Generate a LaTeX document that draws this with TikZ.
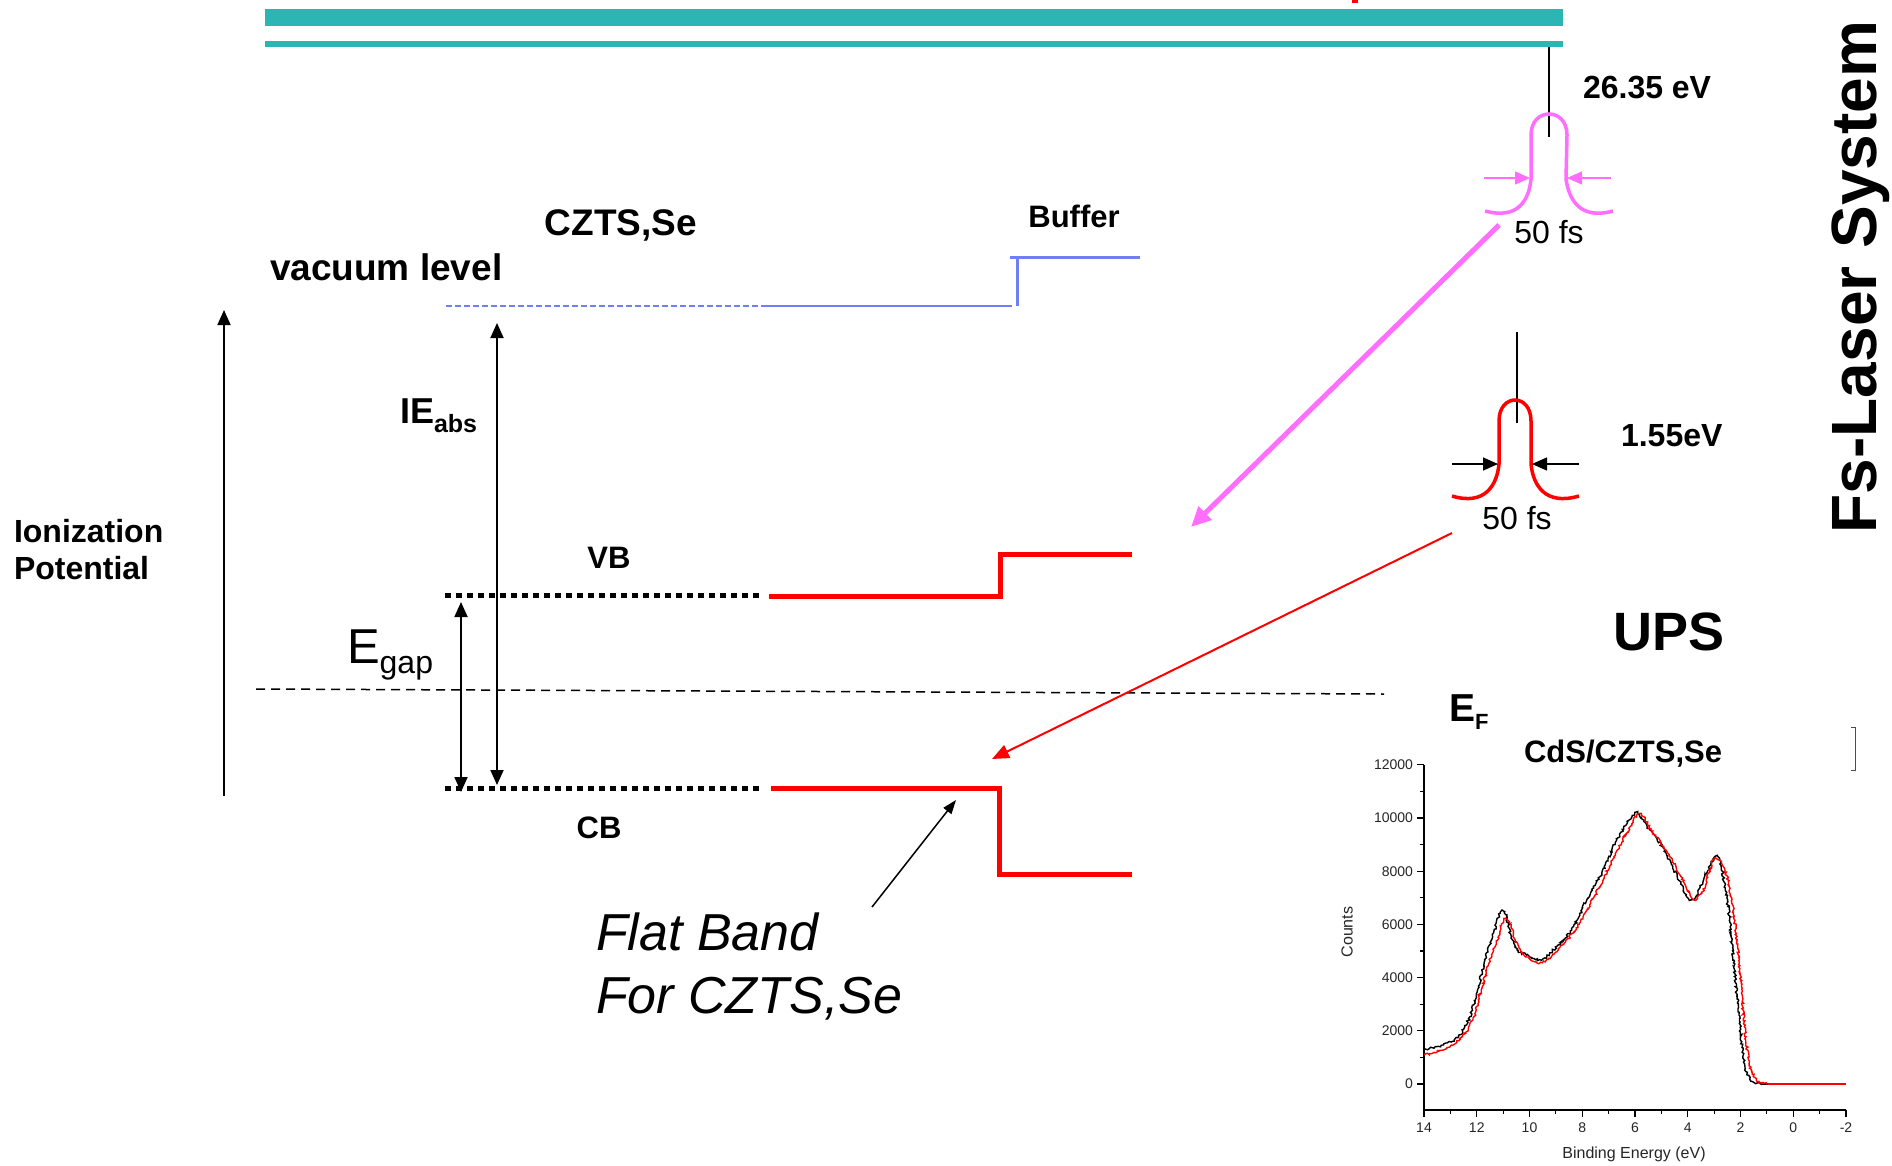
\documentclass[tikz,border=0pt]{standalone}
\usepackage{fontspec}
\setmainfont{Liberation Sans}
\usetikzlibrary{arrows.meta,decorations.pathmorphing}
\definecolor{teal1}{RGB}{43,181,179}
\definecolor{vacblue}{RGB}{112,128,240}
\definecolor{pulsepink}{RGB}{255,110,255}
\newcommand{\fsz}[1]{\fontsize{#1}{#1}\selectfont}
\begin{document}
\begin{tikzpicture}[x=1pt,y=-1pt,
  lbl/.style={inner sep=0pt, outer sep=0pt},
  tipA/.style={-{Triangle[length=15pt,width=13pt]}},
  tipB/.style={{Triangle[length=15pt,width=13pt]}-{Triangle[length=15pt,width=13pt]}},
  vline/.style={line width=1.8pt},
  dotline/.style={line width=5pt, dash pattern=on 6pt off 5pt},
  band/.style={red, line width=5pt, miter limit=10},
  pulse/.style={line width=3.5pt},
  noisy/.style={line width=1.4pt, decorate, decoration={random steps, segment length=1.6pt, amplitude=1.2pt}},
  ticklbl/.style={lbl, font=\fsz{14}, text=black!85}]
\useasboundingbox (0,0) rectangle (1892,1165);
\fill[white] (0,0) rectangle (1892,1165);

% top bars
\fill[teal1] (265,9) rectangle (1563,26);
\fill[teal1] (265,41) rectangle (1563,47);
\fill[red] (1352,0) rectangle (1358,3);

% Fermi level
\coordinate (ef1) at (256,689);
\coordinate (ef2) at (1384,694);
\draw[line width=1.5pt, dash pattern=on 9pt off 6pt] (ef1) -- (ef2);

% vacuum level
\coordinate (va) at (446,306); \coordinate (vb) at (765,306); \coordinate (vc) at (1012,306);
\draw[vacblue, line width=2.5pt, dash pattern=on 6pt off 3pt] (va) -- (vb);
\draw[vacblue, line width=2.5pt] (vb) -- (vc);
\coordinate (vd) at (1017,258); \coordinate (ve) at (1017,306);
\draw[vacblue, line width=3pt] (vd) -- (ve);
\coordinate (vf) at (1010,257); \coordinate (vg) at (1140,257);
\draw[vacblue, line width=3pt] (vf) -- (vg);

% dotted VB / CB
\coordinate (vb1) at (445,595); \coordinate (vb2) at (760,595);
\coordinate (cb1) at (445,788); \coordinate (cb2) at (760,788);
\draw[dotline] (vb1) -- (vb2);
\draw[dotline] (cb1) -- (cb2);

% red bands
\draw[band] (769,596) -- (1000,596) -- (1000,554) -- (1132,554);
\draw[band] (771,788) -- (999,788) -- (999,874) -- (1132,874);

% vertical arrows
\coordinate (ip1) at (224,796); \coordinate (ip2) at (224,310);
\draw[vline, tipA] (ip1) -- (ip2);
\coordinate (ie1) at (497,323); \coordinate (ie2) at (497,785);
\draw[vline, tipB] (ie1) -- (ie2);
\coordinate (eg1) at (461,602); \coordinate (eg2) at (461,792);
\draw[vline, tipB] (eg1) -- (eg2);

% laser beams
\coordinate (pb1) at (1499,225); \coordinate (pb2) at (1191,527);
\draw[pulsepink, line width=5pt, -{Triangle[length=20pt,width=18pt]}] (pb1) -- (pb2);
\coordinate (rb1) at (1452,533); \coordinate (rb2) at (992,759);
\draw[red, line width=2pt, -{Triangle[length=17pt,width=14pt]}] (rb1) -- (rb2);
\coordinate (fb1) at (872,907); \coordinate (fb2) at (956,800);
\draw[line width=1.5pt, -{Triangle[length=14pt,width=10pt]}] (fb1) -- (fb2);

% pulses
\draw[line width=2.5pt] (1549,47) -- (1549,137);
\draw[pulsepink, pulse] (1485,211) .. controls (1518,220) and (1529,200) .. (1531,179) -- (1531,135)
  .. controls (1531,107) and (1567,107) .. (1567,135) -- (1566,179)
  .. controls (1569,200) and (1580,220) .. (1613,211);
\draw[pulsepink, line width=1.3pt, tipA] (1484,178) -- (1530,178);
\draw[pulsepink, line width=1.3pt, tipA] (1611,178) -- (1567,178);

\draw[line width=2.5pt] (1517,332) -- (1517,423);
\draw[red, pulse] (1452,496) .. controls (1485,506) and (1497,485) .. (1499,464) -- (1499,421)
  .. controls (1499,393) and (1531,393) .. (1531,421) -- (1531,464)
  .. controls (1533,485) and (1545,506) .. (1579,496);
\draw[line width=1.5pt, tipA] (1452,464) -- (1498,464);
\draw[line width=1.5pt, tipA] (1579,464) -- (1532,464);

% bracket
\draw[line width=1pt, black!70] (1851,727) -- (1855,727) -- (1855,770) -- (1851,770);

% plot axes
\draw[line width=1.3pt] (1424,765) -- (1424,1110) -- (1846,1110);
\foreach \k in {0,2,...,12} \draw[line width=1.2pt] (1424,{1084-26.6*\k}) -- ++(-7,0);
\foreach \k in {1,3,...,11} \draw[line width=1.2pt] (1424,{1084-26.6*\k}) -- ++(-4,0);
\foreach \k/\t in {0/0,2/2000,4/4000,6/6000,8/8000,10/10000,12/12000}
  \node[ticklbl, anchor=east] at (1413,{1084-26.6*\k}) {\t};
\foreach \b in {-2,0,...,14} \draw[line width=1.2pt] ({1793.25-26.375*\b},1110) -- ++(0,7);
\foreach \b in {-1,1,...,13} \draw[line width=1.2pt] ({1793.25-26.375*\b},1110) -- ++(0,4);
\foreach \b in {-2,0,2,4,6,8,10,12,14}
  \node[ticklbl] at ({1793.25-26.375*\b},1128) {\b};
\node[lbl, rotate=90, font=\fsz{16}, text=black!85] (cnt) at (1347,932) {Counts};
\node[lbl, font=\fsz{16}, text=black!85] (bel) at (1634,1154) {Binding Energy (eV)};

% spectra
\pgfmathsetseed{7}
\begin{scope}[shift={(1793.25,1084)}, x={(-26.375pt,0pt)}, y={(0pt,26.6pt)}]
\draw[noisy]
 plot[smooth, tension=0.5] coordinates {(14,1.28) (13.26,1.47) (12.69,1.78) (12.26,2.53) (11.97,3.54) (11.69,4.66)
 (11.4,5.54) (11.11,6.42) (10.9,6.36) (10.69,5.54) (10.47,5.04) (10.11,4.85) (9.54,4.66) (8.97,5.17)
 (8.4,5.79) (7.83,6.92) (7.26,7.93) (6.69,9.18) (6.11,10.06) (5.9,10.18) (5.54,9.68) (4.97,8.93)
 (4.4,7.8) (3.97,6.98) (3.69,7.05) (3.4,7.67) (2.97,8.55) (2.76,8.3) (2.47,6.67) (2.26,4.66)
 (2.04,2.41) (1.83,0.65) (1.54,0.09) (1.11,0)};
\draw[line width=1.4pt] (1.11,0) -- (-2,0);
\draw[red, noisy]
 plot[smooth, tension=0.5] coordinates {(14,1.09) (13.26,1.28) (12.54,1.78) (12.11,2.53) (11.83,3.54) (11.54,4.54)
 (11.26,5.29) (10.97,6.17) (10.76,6.04) (10.54,5.42) (10.26,4.92) (9.69,4.54) (9.26,4.73) (8.69,5.29)
 (8.11,6.04) (7.54,7.05) (6.97,8.18) (6.4,9.3) (5.83,10.16) (5.4,9.56) (4.83,8.8) (4.26,7.8)
 (3.83,6.98) (3.47,7.17) (3.2,7.93) (2.97,8.49) (2.61,8.11) (2.33,6.92) (2.11,5.17) (1.9,2.78)
 (1.69,0.9) (1.4,0.15) (0.97,0)};
\draw[red, line width=1.4pt] (0.97,0) -- (-2,0);
\end{scope}

% texts
\node[lbl, anchor=base west, font=\fsz{37}\bfseries] (vac) at (270,280) {vacuum level};
\node[lbl, anchor=base, font=\fsz{37}\bfseries] (czts) at (621,235) {CZTS,Se};
\node[lbl, anchor=base, font=\fsz{31}\bfseries] (buf) at (1074,227) {Buffer};
\node[lbl, anchor=base west] (ie) at (400,423) {\fsz{36}\bfseries IE\raisebox{-9pt}{\fsz{25}abs}};
\node[lbl, anchor=base west, font=\fsz{32}\bfseries] (ion1) at (14,542) {Ionization};
\node[lbl, anchor=base west, font=\fsz{32}\bfseries] (ion2) at (14,579) {Potential};
\node[lbl, anchor=base, font=\fsz{31}\bfseries] (vbl) at (609,568) {VB};
\node[lbl, anchor=base, font=\fsz{31}\bfseries] (cbl) at (599,838) {CB};
\node[lbl, anchor=base west] (egap) at (347,663) {\fsz{49}E\raisebox{-10pt}{\fsz{32}gap}};
\node[lbl, anchor=base west, font=\fsz{52}\itshape] (flat1) at (596,950) {Flat Band};
\node[lbl, anchor=base west, font=\fsz{52}\itshape] (flat2) at (596,1013) {For CZTS,Se};
\node[lbl, anchor=base west, font=\fsz{32}\bfseries] (e1) at (1583,98) {26.35 eV};
\node[lbl, anchor=base, font=\fsz{32}] (fs1) at (1549,243) {50 fs};
\node[lbl, anchor=base west, font=\fsz{32}\bfseries] (e2) at (1621,446) {1.55eV};
\node[lbl, anchor=base, font=\fsz{32}] (fs2) at (1517,529) {50 fs};
\node[lbl, anchor=base west, font=\fsz{54}\bfseries] (ups) at (1613,650) {UPS};
\node[lbl, anchor=base west] (efl) at (1449,721) {\fsz{39}\bfseries E\raisebox{-8pt}{\fsz{22}F}};
\node[lbl, anchor=base west, font=\fsz{31}\bfseries] (cds) at (1524,762) {CdS/CZTS,Se};
\node[lbl, anchor=base, rotate=90, font=\fsz{64}\bfseries] (fsl) at (1876,277) {Fs-Laser System};
\end{tikzpicture}
\end{document}
